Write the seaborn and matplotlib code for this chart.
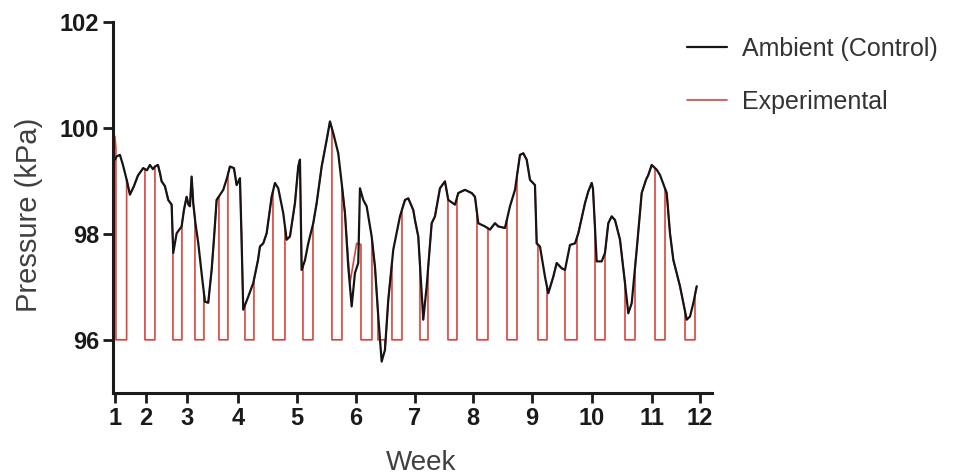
import matplotlib
matplotlib.use("Agg")
import matplotlib.pyplot as plt
import seaborn as sns
import numpy as np
import pandas as pd

# x axis = reading index of the logger record, weeks marked at these readings
week_ticks = [0, 31, 72, 123, 182, 241, 300, 358, 417, 477, 537, 585]
week_labels = [str(w) for w in range(1, 13)]

# ambient (control) pressure, kPa
amb_t = [0, 1.7, 5, 8, 12, 15, 19, 23, 28.3, 32,
         35, 38, 40, 43, 45, 46.7, 50, 53.3, 56.7, 58.3,
         61.7, 66.7, 69, 71.7, 73.5, 75, 76.7, 78.3, 80.5, 83.3,
         87, 90, 93.3, 96.7, 99, 101.7, 108.3, 112, 115, 119,
         121.7, 125, 126.5, 128.3, 133, 138.3, 143, 145, 148.3, 151.7,
         156.7, 160, 163.3, 168.3, 171.7, 175, 180, 183.3, 185, 186.7,
         190, 193.3, 198.3, 201.7, 206.7, 211.7, 215, 218.3, 223.3, 226.7,
         230, 233.3, 236.7, 240, 243.3, 245, 248.3, 251.7, 256.7, 260,
         263.3, 266.7, 270, 273.3, 278.3, 285, 290, 293.3, 298.3, 300,
         303.3, 308.3, 311.7, 316.7, 320, 325, 330, 333.3, 340, 343.3,
         350, 356.7, 360, 363.3, 370, 375, 380, 383.3, 390, 395,
         400, 405, 408.3, 411.7, 415, 420, 421.7, 425, 430, 433.3,
         438.3, 441.7, 446.7, 450, 455, 460, 463.3, 470, 473.3, 476.7,
         478, 481.7, 486.7, 490, 493.3, 496.7, 500, 505, 510, 513.3,
         516.7, 521.7, 526.7, 531, 533.3, 536.7, 541.7, 545, 551.7, 555,
         558.3, 565, 571.7, 575, 578.3, 581.7]
amb_p = [99.40, 99.46, 99.49, 99.30, 99.00, 98.74, 98.90, 99.10, 99.24, 99.20,
         99.30, 99.22, 99.27, 99.30, 99.15, 98.99, 98.90, 98.64, 98.55, 97.64,
         98.01, 98.14, 98.45, 98.70, 98.55, 98.52, 99.08, 98.58, 98.20, 97.83,
         97.20, 96.72, 96.70, 97.32, 97.90, 98.64, 98.83, 99.05, 99.27, 99.24,
         98.92, 99.05, 98.00, 96.57, 96.80, 97.07, 97.50, 97.76, 97.82, 98.01,
         98.70, 98.96, 98.86, 98.39, 97.89, 97.95, 98.58, 99.27, 99.40, 97.32,
         97.50, 97.82, 98.20, 98.58, 99.27, 99.77, 100.12, 99.90, 99.52, 98.96,
         98.39, 97.38, 96.63, 97.26, 97.45, 98.86, 98.64, 98.52, 97.95, 97.38,
         96.44, 95.59, 95.81, 96.75, 97.70, 98.33, 98.64, 98.67, 98.45, 98.26,
         97.95, 96.38, 97.01, 98.20, 98.33, 98.86, 98.99, 98.64, 98.55, 98.77,
         98.83, 98.77, 98.70, 98.20, 98.14, 98.08, 98.20, 98.14, 98.11, 98.52,
         98.83, 99.49, 99.52, 99.40, 99.02, 98.92, 97.82, 97.76, 97.19, 96.88,
         97.19, 97.45, 97.35, 97.32, 97.79, 97.82, 98.01, 98.58, 98.80, 98.96,
         98.85, 97.48, 97.48, 97.64, 98.20, 98.33, 98.26, 97.89, 97.07, 96.50,
         96.69, 97.70, 98.77, 99.02, 99.11, 99.30, 99.21, 99.11, 98.77, 98.01,
         97.51, 97.01, 96.38, 96.44, 96.69, 97.01]

# experimental chamber held at 96 kPa during these readings, else follows ambient
low_start = [1, 30, 58, 80, 104, 130, 158, 188, 217, 246, 263,
             277, 305, 333, 362, 392, 423, 450, 480, 510, 540, 570]
low_end = [11.7, 40, 67, 89, 113, 139, 170, 198, 227, 257, 270,
           287, 313, 342, 373, 402, 432, 462, 490, 520, 550, 580]
low_p = 96.0

# readings where the experimental chamber did not follow ambient
exp_fix_t = [0, 230, 235, 241.7, 246]
exp_fix_p = [99.84, 98.39, 97.07, 97.82, 97.80]

# build experimental trace
bt = np.array(amb_t, dtype=float)
bp = np.array(amb_p, dtype=float)
drop = ((bt >= exp_fix_t[1]) & (bt <= exp_fix_t[-1])) | np.isin(bt, exp_fix_t)
bt = np.concatenate([bt[~drop], exp_fix_t])
bp = np.concatenate([bp[~drop], exp_fix_p])
order = np.argsort(bt)
bt, bp = bt[order], bp[order]

pts = []
for tt, pp in zip(bt, bp):
    if not any(a <= tt <= b for a, b in zip(low_start, low_end)):
        pts.append((tt, 0, pp))
for a, b in zip(low_start, low_end):
    pts.append((a, 0, np.interp(a, bt, bp)))
    pts.append((a, 1, low_p))
    pts.append((b, 2, low_p))
    pts.append((b, 3, np.interp(b, bt, bp)))
pts.sort(key=lambda r: (r[0], r[1]))
exp_df = pd.DataFrame({"t": [r[0] for r in pts], "p": [r[2] for r in pts]})
amb_df = pd.DataFrame({"t": amb_t, "p": amb_p})

sns.set_style("ticks")
plt.rcParams["font.family"] = ["Liberation Sans", "DejaVu Sans"]

fig = plt.figure(figsize=(9.57, 4.75), dpi=100)
ax = fig.add_axes([0.118, 0.173, 0.626, 0.781])

sns.lineplot(data=exp_df, x="t", y="p", sort=False, estimator=None,
             color="#d9453d", lw=1.2, label="Experimental", ax=ax)
sns.lineplot(data=amb_df, x="t", y="p", sort=False, estimator=None,
             color="#151515", lw=1.6, label="Ambient (Control)", ax=ax)

ax.set_xlim(-2, 597)
ax.set_ylim(95.0, 102)
ax.set_xticks(week_ticks)
ax.set_xticklabels(week_labels)
ax.set_yticks([96, 98, 100, 102])
sns.despine(ax=ax)
for s in ["left", "bottom"]:
    ax.spines[s].set_linewidth(2.2)
    ax.spines[s].set_color("#1a1a1a")
ax.tick_params(direction="out", length=7, width=2, color="#1a1a1a", pad=3,
               labelsize=17, labelcolor="#1a1a1a")
for lab in ax.get_xticklabels() + ax.get_yticklabels():
    lab.set_fontweight("bold")

ax.set_xlabel("Week", fontsize=20, color="#404040")
ax.set_ylabel("Pressure (kPa)", fontsize=21, color="#404040")
ax.xaxis.set_label_coords(0.515, -0.155)
ax.yaxis.set_label_coords(-0.117, 0.48)

h, l = ax.get_legend_handles_labels()
ax.get_legend().remove()
fig.legend([h[1], h[0]], [l[1], l[0]], loc="upper left",
           bbox_to_anchor=(0.6945, 0.97), frameon=False, fontsize=18,
           handlelength=1.6, handletextpad=0.6, labelspacing=1.15,
           labelcolor="#333333")

fig.savefig("out.png", dpi=100)
